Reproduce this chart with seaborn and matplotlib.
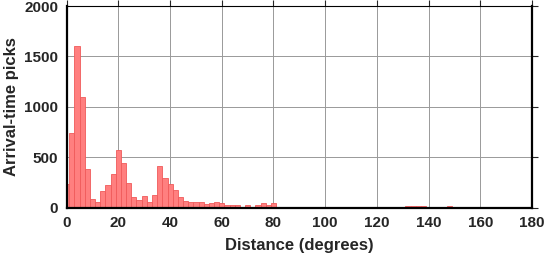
import pandas as pd
import matplotlib
matplotlib.use("Agg")
import matplotlib.pyplot as plt
import seaborn as sns

# bin centres (degrees) and arrival-time pick counts
distance = list(range(0, 182, 2))
picks = [238, 740, 1604, 1099, 383, 84, 50, 168, 221, 337,
         574, 445, 248, 109, 79, 119, 50, 122, 416, 297,
         238, 177, 109, 61, 50, 50, 50, 30, 40, 50,
         40, 20, 20, 20, 10, 20, 10, 20, 40, 20,
         40, 6, 5, 6, 5, 4, 5, 4, 0, 0,
         0, 0, 0, 0, 0, 0, 3, 3, 3, 3,
         3, 3, 3, 3, 4, 5, 15, 18, 15, 16,
         5, 5, 4, 5, 15, 5, 4, 0, 0, 0,
         5, 0, 0, 0, 0, 0, 0, 0, 5, 0,
         0]
x_ticks = [0, 20, 40, 60, 80, 100, 120, 140, 160, 180]
y_ticks = [0, 500, 1000, 1500, 2000]

df = pd.DataFrame({"distance": distance, "picks": picks})

sns.set_style("white")
plt.rcParams['font.family'] = ['Liberation Sans', 'DejaVu Sans']
plt.rcParams['font.weight'] = 'bold'

fig = plt.figure(figsize=(5.47, 2.58), dpi=100)
ax = fig.add_axes([0.1219, 0.1957, 0.8507, 0.781])

sns.histplot(data=df, x="distance", weights="picks", binwidth=2,
             binrange=(-1, 181), color="#ff7f7f", edgecolor="#f05a5a",
             linewidth=0.6, alpha=1.0, ax=ax, zorder=2)

ax.set_xlim(0, 180)
ax.set_ylim(0, 2000)
ax.set_xticks(x_ticks)
ax.set_yticks(y_ticks)
ax.grid(True, color="#999999", linewidth=0.7, zorder=0)
ax.set_axisbelow(True)

for side in ["left", "bottom", "right"]:
    ax.spines[side].set_linewidth(1.6)
    ax.spines[side].set_color("black")
ax.spines["top"].set_linewidth(0.8)
ax.spines["top"].set_color("black")
for s in ax.spines.values():
    s.set_zorder(5)

ax.tick_params(axis="both", direction="out", length=4, width=0.8,
               labelsize=11, pad=2, top=True, right=True,
               labeltop=False, labelright=False)
for lab in ax.get_xticklabels() + ax.get_yticklabels():
    lab.set_fontweight("bold")

ax.set_xlabel("Distance (degrees)", fontsize=12, fontweight="bold", labelpad=6)
ax.set_ylabel("Arrival-time picks", fontsize=12, fontweight="bold", labelpad=4)

fig.savefig("out.png", dpi=100)
